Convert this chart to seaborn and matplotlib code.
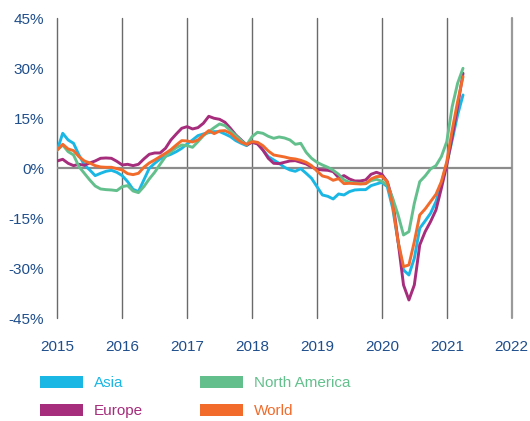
import numpy as np
import pandas as pd
import matplotlib
matplotlib.use("Agg")
import matplotlib.pyplot as plt
from matplotlib.patches import Patch
import seaborn as sns

# monthly growth (%), Jan 2015 .. Apr 2021
asia = [5.5, 10.5, 8.5, 7.5, 4.0, 1.0, -0.5, -2.2, -1.5, -0.9, -0.6, -1.2,
        -2.2, -4.0, -6.3, -7.0, -3.5, 0.0, 1.5, 2.8, 3.6, 4.2, 5.0, 6.0,
        7.3, 8.5, 9.8, 10.3, 10.7, 11.0, 11.0, 10.3, 9.5, 8.3, 7.5, 6.8,
        8.0, 7.7, 5.5, 3.5, 2.5, 1.5, 0.3, -0.5, -0.9, -0.1, -1.5, -3.0,
        -5.5, -8.0, -8.4, -9.2, -7.7, -8.0, -7.0, -6.5, -6.4, -6.4, -5.2, -4.7,
        -4.2, -5.5, -12.0, -22.0, -30.5, -32.0, -27.0, -18.0, -15.8, -13.5, -10.0, -4.5,
        1.5, 8.5, 16.0, 22.0]
europe = [2.2, 2.7, 1.5, 0.8, 1.2, 0.9, 1.6, 2.2, 3.0, 3.1, 3.0, 2.1,
          1.0, 1.2, 0.8, 1.2, 2.8, 4.2, 4.6, 4.6, 6.0, 8.5, 10.3, 12.0,
          12.5, 11.8, 12.2, 13.5, 15.6, 15.0, 14.7, 13.8, 12.0, 10.0, 8.5, 7.0,
          7.8, 7.3, 5.5, 3.0, 1.5, 1.4, 1.8, 2.2, 2.3, 1.8, 1.3, 0.4,
          -0.3, -0.5, -0.6, -1.0, -2.8, -2.2, -3.2, -3.8, -3.8, -3.5, -1.8, -1.2,
          -1.8, -4.0, -9.5, -22.0, -35.0, -39.5, -35.0, -23.0, -19.0, -16.0, -12.5, -6.0,
          1.0, 9.5, 18.5, 28.5]
north_america = [5.5, 7.0, 5.0, 4.0, 0.5, -1.5, -3.5, -5.3, -6.2, -6.4, -6.5, -6.7,
                 -5.5, -5.2, -6.8, -7.3, -5.5, -3.2, -1.2, 1.2, 3.5, 5.0, 6.2, 7.0,
                 6.8, 6.3, 8.0, 9.8, 11.0, 12.2, 13.3, 12.8, 11.3, 9.8, 8.3, 7.0,
                 9.5, 10.8, 10.5, 9.6, 9.0, 9.4, 9.1, 8.5, 7.2, 7.5, 4.8, 3.0,
                 1.8, 1.0, 0.3, -0.6, -1.8, -3.5, -4.2, -4.4, -4.6, -4.6, -3.7, -3.3,
                 -3.9, -5.0, -9.0, -14.0, -20.0, -19.0, -10.5, -4.0, -2.3, -0.2, 0.8, 3.5,
                 8.0, 18.5, 25.5, 30.0]
world = [5.5, 7.2, 5.8, 5.3, 3.5, 2.2, 1.6, 0.8, 0.4, 0.3, 0.3, -0.1,
         -0.5, -1.6, -1.9, -1.5, 0.3, 1.6, 2.5, 3.5, 4.5, 5.6, 7.0, 8.3,
         8.2, 7.9, 8.5, 10.0, 11.3, 10.4, 11.2, 11.3, 10.5, 9.0, 7.8, 7.2,
         8.0, 7.8, 6.8, 5.2, 4.0, 3.7, 3.4, 3.0, 2.8, 2.4, 1.8, 0.8,
         -0.8, -2.3, -2.7, -3.6, -3.1, -4.6, -4.5, -4.6, -4.7, -4.6, -3.2, -2.5,
         -2.4, -4.0, -11.0, -22.0, -29.5, -29.0, -22.0, -14.0, -12.2, -10.0, -7.8, -4.0,
         2.0, 11.5, 20.0, 27.5]

regions = ["Asia", "Europe", "North America", "World"]
colors = ["#1AB7E5", "#A62C7C", "#63C08D", "#F26B2B"]
years = [2015, 2016, 2017, 2018, 2019, 2020, 2021, 2022]
y_ticks = [-45, -30, -15, 0, 15, 30, 45]

# long-form table for seaborn
months = np.arange(len(asia))
df = pd.concat([
    pd.DataFrame({"date": 2015 + months / 12, "value": vals, "region": name})
    for name, vals in zip(regions, [asia, europe, north_america, world])
])

sns.set_style("white")
plt.rcParams["font.family"] = ["Liberation Sans", "DejaVu Sans"]

fig = plt.figure(figsize=(5.3, 4.21), dpi=100)
ax = fig.add_axes([57.3 / 530, 1 - 318.3 / 421, 454.4 / 530, 300 / 421])

# grid lines
for yr in years[:-1]:
    ax.axvline(yr, color="#6a6a6a", lw=1.0, zorder=1, clip_on=False)
ax.axvline(years[-1], color="#9a9a9a", lw=1.6, zorder=1, clip_on=False)
ax.axhline(0, color="#8c8c8c", lw=1.6, zorder=1)

sns.lineplot(data=df, x="date", y="value", hue="region", hue_order=regions,
             palette=colors, linewidth=2.1, legend=False, ax=ax, zorder=3)

ax.set_xlim(2015, 2022)
ax.set_ylim(-45, 45)
ax.set_xticks(years)
ax.set_xticklabels([str(y) for y in years])
ax.set_yticks(y_ticks)
ax.set_yticklabels([f"{v}%" for v in y_ticks])
ax.set_xlabel("")
ax.set_ylabel("")
ax.tick_params(axis="x", length=0, pad=15.5, labelsize=11, labelcolor="#1F4E8C")
ax.tick_params(axis="y", length=0, pad=9.5, labelsize=11, labelcolor="#1F4E8C")
for s in ax.spines.values():
    s.set_visible(False)

handles = [Patch(facecolor=c, edgecolor="none") for c in colors]
leg = fig.legend(handles, regions, loc="upper left",
                 bbox_to_anchor=(40 / 530, 1 - 376 / 421), bbox_transform=fig.transFigure,
                 ncol=2, frameon=False, fontsize=11, borderpad=0, borderaxespad=0,
                 handlelength=2.8, handleheight=0.8, handletextpad=0.75,
                 columnspacing=3.7, labelspacing=0.9)
for txt, c in zip(leg.get_texts(), colors):
    txt.set_color(c)

fig.savefig("out.png", dpi=100)
